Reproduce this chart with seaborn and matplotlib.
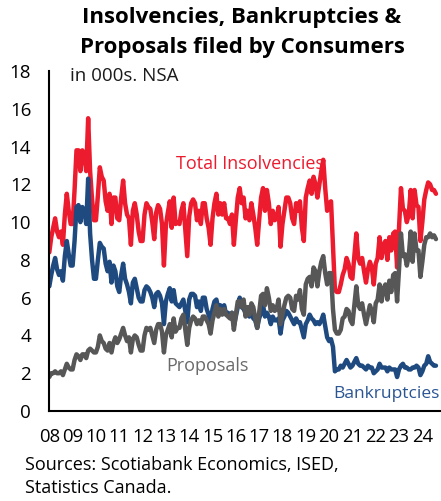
import numpy as np
import pandas as pd
import matplotlib
matplotlib.use("Agg")
import matplotlib.pyplot as plt
import seaborn as sns

# Monthly consumer filings, thousands, not seasonally adjusted (Jan 2008 - Aug 2024)
start_year = 2008
bankruptcies = [
    6.6, 7.2, 7.7, 8.1, 7.5, 7.2, 7.4, 6.9, 8.2, 9.0, 8.3, 7.7,       # 2008
    7.7, 9.0, 10.8, 10.9, 10.0, 10.8, 10.6, 9.9, 12.3, 9.4, 8.0, 7.0, # 2009
    7.0, 8.0, 8.9, 8.7, 8.6, 7.8, 7.4, 7.9, 6.8, 7.7, 7.4, 6.6,       # 2010
    6.3, 7.2, 7.8, 7.0, 6.7, 6.3, 5.7, 6.8, 7.0, 6.5, 6.0, 5.8,       # 2011
    5.8, 6.4, 6.6, 6.5, 6.3, 6.0, 5.5, 6.2, 6.3, 6.1, 5.7, 4.6,       # 2012
    5.8, 6.2, 6.5, 5.8, 6.4, 5.7, 5.6, 5.5, 5.7, 5.9, 5.3, 4.7,       # 2013
    5.9, 6.2, 6.2, 6.1, 5.5, 5.8, 5.3, 6.0, 6.0, 5.4, 5.1, 4.7,       # 2014
    5.4, 5.8, 5.9, 5.4, 5.6, 5.3, 5.6, 5.1, 5.2, 5.0, 5.2, 4.5,       # 2015
    5.0, 5.5, 6.0, 5.5, 5.4, 5.2, 5.1, 5.0, 5.3, 4.9, 4.8, 4.4,       # 2016
    4.9, 5.2, 5.6, 5.0, 5.2, 5.0, 4.6, 5.0, 4.8, 4.8, 4.9, 4.1,       # 2017
    4.8, 5.0, 5.3, 5.2, 5.0, 4.8, 4.6, 4.9, 4.7, 4.7, 4.3, 3.9,       # 2018
    4.6, 4.8, 5.1, 4.9, 4.8, 4.6, 4.7, 4.6, 4.8, 5.1, 4.5, 3.9,       # 2019
    3.7, 3.8, 3.4, 2.1, 2.2, 2.2, 2.4, 2.3, 2.5, 2.7, 2.5, 2.3,       # 2020
    2.4, 2.6, 2.8, 2.5, 2.4, 2.4, 2.3, 2.2, 2.4, 2.3, 2.3, 2.0,       # 2021
    2.1, 2.2, 2.5, 2.3, 2.3, 2.3, 2.1, 2.3, 2.2, 2.2, 2.2, 1.8,       # 2022
    2.2, 2.4, 2.5, 2.3, 2.3, 2.2, 2.2, 2.3, 2.3, 2.4, 2.3, 1.9,       # 2023
    2.1, 2.4, 2.5, 2.9, 2.6, 2.5, 2.4, 2.4,                           # 2024
]
proposals = [
    1.8, 2.0, 2.0, 2.1, 2.0, 2.0, 2.1, 1.9, 2.2, 2.5, 2.3, 2.2,       # 2008
    2.2, 2.7, 3.0, 2.9, 2.7, 3.0, 3.0, 2.8, 3.2, 3.3, 3.2, 3.1,       # 2009
    3.1, 3.4, 4.0, 3.7, 3.6, 3.3, 3.2, 3.6, 3.1, 3.6, 3.9, 3.6,       # 2010
    3.8, 4.1, 4.4, 4.0, 3.7, 3.9, 3.1, 3.8, 4.0, 3.9, 3.5, 3.2,       # 2011
    3.2, 4.0, 4.4, 4.3, 4.4, 4.0, 3.6, 4.3, 4.6, 4.6, 4.2, 3.1,       # 2012
    4.0, 4.3, 4.6, 3.9, 4.9, 4.2, 4.4, 4.4, 4.9, 5.1, 4.3, 3.5,       # 2013
    4.4, 4.8, 5.0, 4.9, 4.6, 4.8, 4.6, 5.0, 5.0, 4.8, 4.6, 4.1,       # 2014
    4.8, 5.2, 5.6, 5.0, 5.4, 5.1, 5.4, 5.1, 5.0, 4.9, 5.2, 4.3,       # 2015
    5.1, 5.8, 5.8, 5.5, 5.9, 5.0, 5.5, 5.1, 5.7, 5.5, 4.9, 4.4,       # 2016
    5.2, 6.1, 6.2, 5.6, 6.5, 6.0, 5.3, 5.6, 5.3, 5.4, 5.9, 4.6,       # 2017
    5.1, 5.6, 6.0, 6.1, 6.0, 5.4, 5.3, 6.1, 5.9, 6.4, 5.4, 5.1,       # 2018
    6.7, 7.0, 7.1, 6.6, 7.6, 7.4, 6.6, 7.4, 7.9, 8.2, 7.3, 6.7,       # 2019
    7.3, 7.3, 5.4, 4.3, 4.1, 4.1, 4.3, 4.9, 5.0, 5.4, 5.3, 4.8,       # 2020
    4.6, 5.6, 6.6, 5.6, 5.4, 5.7, 5.1, 4.6, 5.1, 5.6, 5.3, 4.7,       # 2021
    5.7, 5.9, 6.7, 5.8, 6.5, 6.7, 5.9, 6.9, 6.3, 7.2, 7.3, 5.8,       # 2022
    7.5, 9.4, 8.2, 8.3, 7.7, 8.2, 9.5, 7.9, 9.4, 8.5, 8.5, 7.1,       # 2023
    7.9, 8.8, 9.2, 9.2, 9.4, 9.2, 9.3, 9.1,                           # 2024
]
# Total insolvencies are bankruptcies plus proposals
total_insolvencies = [b + p for b, p in zip(bankruptcies, proposals)]

year_ticks = list(range(2008, 2025))
year_labels = [f"{y % 100:02d}" for y in year_ticks]
y_ticks = [0, 2, 4, 6, 8, 10, 12, 14, 16, 18]

series_names = ["Total Insolvencies", "Bankruptcies", "Proposals"]
colors = {"Total Insolvencies": "#EC1B2E",
          "Bankruptcies": "#1F4A80",
          "Proposals": "#575757"}

n = len(bankruptcies)
t = start_year + np.arange(n) / 12.0
df = pd.concat([
    pd.DataFrame({"t": t, "value": total_insolvencies, "series": "Total Insolvencies"}),
    pd.DataFrame({"t": t, "value": bankruptcies, "series": "Bankruptcies"}),
    pd.DataFrame({"t": t, "value": proposals, "series": "Proposals"}),
], ignore_index=True)

sns.set_style("white")
plt.rcParams["font.family"] = ["Open Sans", "DejaVu Sans"]

W, H = 441, 501
fig = plt.figure(figsize=(W / 100, H / 100), dpi=100)
ax_left, ax_right, ax_top, ax_bottom = 49.3, 441, 71, 411
ax = fig.add_axes([ax_left / W, 1 - ax_bottom / H,
                   (ax_right - ax_left) / W, (ax_bottom - ax_top) / H])

sns.lineplot(data=df, x="t", y="value", hue="series", hue_order=series_names,
             palette=colors, linewidth=3.2, legend=False, ax=ax,
             solid_joinstyle="round", solid_capstyle="round")

ax.set_xlim(2008, 2024.8)
ax.set_ylim(0, 18)
ax.set_xlabel("")
ax.set_ylabel("")

for side in ["top", "right"]:
    ax.spines[side].set_visible(False)
for side in ["left", "bottom"]:
    ax.spines[side].set_color("black")
    ax.spines[side].set_linewidth(1.5)

ax.set_xticks(year_ticks)
ax.set_xticklabels(year_labels)
ax.set_yticks(y_ticks)
ax.set_yticklabels([str(v) for v in y_ticks])
ax.tick_params(axis="x", direction="out", length=5, width=1.5, pad=7,
               labelsize=13.3, colors="black")
ax.tick_params(axis="y", length=0, pad=13, labelsize=13.5, colors="black")
ax.set_yticks([18], minor=True)
ax.tick_params(axis="y", which="minor", direction="in", length=4, width=1.5)

ax.text(2008.89, 17.75, "in 000s. NSA", fontsize=13.5, color="#1a1a1a", va="center")
ax.text(2013.42, 13.1, "Total Insolvencies", fontsize=13, color="#EC1B2E", va="center")
ax.text(2013.03, 2.39, "Proposals", fontsize=13, color="#6a6a6a", va="center")
ax.text(2020.2, 0.9, "Bankruptcies", fontsize=12.5, color="#2A5593", va="center")

fig.text(242 / W, 1 - 18 / H, "Insolvencies, Bankruptcies &", fontsize=16,
         fontweight="bold", ha="center", va="center", color="black")
fig.text(242 / W, 1 - 47 / H, "Proposals filed by Consumers", fontsize=16,
         fontweight="bold", ha="center", va="center", color="black")

fig.text(25 / W, 1 - 465 / H, "Sources: Scotiabank Economics, ISED,", fontsize=13,
         ha="left", va="center", color="black")
fig.text(25 / W, 1 - 488 / H, "Statistics Canada.", fontsize=13,
         ha="left", va="center", color="black")

fig.savefig("out.png", dpi=100)
